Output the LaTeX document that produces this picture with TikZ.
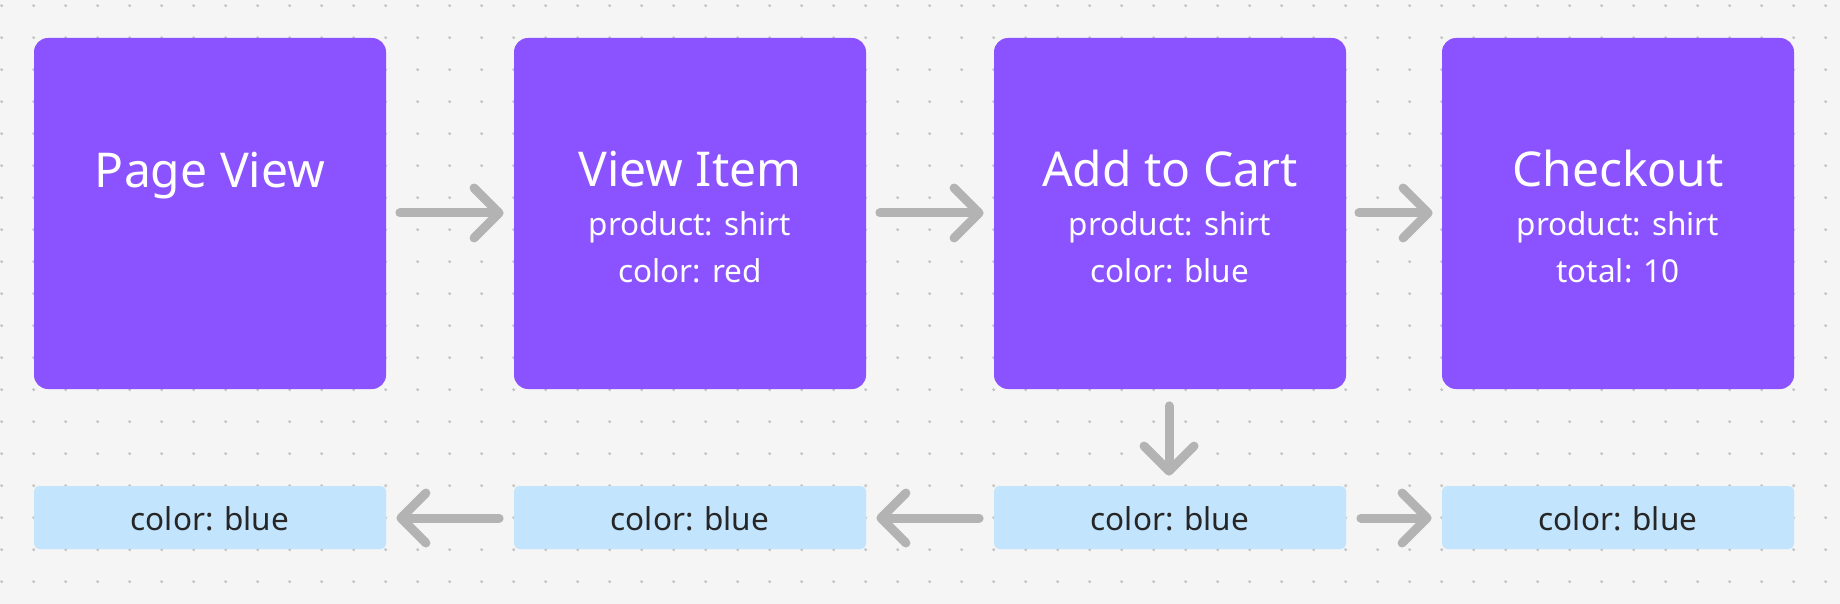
\documentclass[tikz,border=0pt]{standalone}
\usepackage{fontspec}
\setmainfont{Noto Sans}
\usetikzlibrary{arrows.meta}
\definecolor{bg}{HTML}{F5F5F5}
\definecolor{dotc}{HTML}{C6C6C6}
\definecolor{evpurple}{HTML}{8B52FF}
\definecolor{proplue}{HTML}{C3E4FD}
\definecolor{arrowgray}{HTML}{B3B3B3}
\definecolor{darktext}{HTML}{262626}
\tikzset{
  evbox/.style={fill=evpurple, rounded corners=7pt, minimum width=176pt, minimum height=175.5pt, inner sep=0pt, draw=none},
  propbox/.style={fill=proplue, rounded corners=2.5pt, minimum width=176pt, minimum height=31.5pt, inner sep=0pt, draw=none},
  titletext/.style={text=white, font=\fontsize{24}{28}\selectfont, anchor=base, inner sep=0pt},
  subtext/.style={text=white, font=\fontsize{15.75}{19}\selectfont, anchor=base, inner sep=0pt},
  proptext/.style={text=darktext, font=\fontsize{15.75}{19}\selectfont, anchor=base, inner sep=0pt},
  conn/.style={draw=arrowgray, line width=4.5pt, line cap=round, -{Straight Barb[length=12.5pt, width=25pt, round]}},
}
\begin{document}
\begin{tikzpicture}[x=0.5pt, y=-0.5pt]
\fill[bg] (0,0) rectangle (1840,604);
\useasboundingbox (0,0) rectangle (1840,604);
% dot grid
\foreach \i in {0,...,57} {
  \foreach \j in {0,...,18} {
    \fill[dotc] ({1.7+32*\i},{5.7+32*\j}) circle[radius=0.85pt];
  }
}
% event boxes
\node[evbox] (b1) at (210,213.5) {};
\node[evbox] (b2) at (690,213.5) {};
\node[evbox] (b3) at (1170,213.5) {};
\node[evbox] (b4) at (1618,213.5) {};
% property boxes
\node[propbox] (c1) at (210,517.5) {};
\node[propbox] (c2) at (690,517.5) {};
\node[propbox] (c3) at (1170,517.5) {};
\node[propbox] (c4) at (1618,517.5) {};
% texts
\node[titletext] (t1) at (210,188) {Page View};
\node[titletext] (t2) at (690,187) {View Item};
\node[subtext] (t2a) at (690,235) {product: shirt};
\node[subtext] (t2b) at (690,282) {color: red};
\node[titletext] (t3) at (1170,187) {Add to Cart};
\node[subtext] (t3a) at (1170,235) {product: shirt};
\node[subtext] (t3b) at (1170,282) {color: blue};
\node[titletext] (t4) at (1618,187) {Checkout};
\node[subtext] (t4a) at (1618,235) {product: shirt};
\node[subtext] (t4b) at (1618,282) {total: 10};
\node[proptext] (p1) at (210,530) {color: blue};
\node[proptext] (p2) at (690,530) {color: blue};
\node[proptext] (p3) at (1170,530) {color: blue};
\node[proptext] (p4) at (1618,530) {color: blue};
% connectors
\draw[conn] ([shift={(13.5,-0.5)}]b1.east) -- ([shift={(-10,-0.5)}]b2.west);
\draw[conn] ([shift={(13.5,-0.5)}]b2.east) -- ([shift={(-10,-0.5)}]b3.west);
\draw[conn] ([shift={(12.5,-0.5)}]b3.east) -- ([shift={(-9,-0.5)}]b4.west);
\draw[conn] ([shift={(-1,16.5)}]b3.south) -- ([shift={(-1,-10)}]c3.north);
\draw[conn] ([shift={(14.5,0.5)}]c3.east) -- ([shift={(-10,0.5)}]c4.west);
\draw[conn] ([shift={(-14.5,0.5)}]c3.west) -- ([shift={(10,0.5)}]c2.east);
\draw[conn] ([shift={(-14.5,0.5)}]c2.west) -- ([shift={(10,0.5)}]c1.east);
\end{tikzpicture}
\end{document}
